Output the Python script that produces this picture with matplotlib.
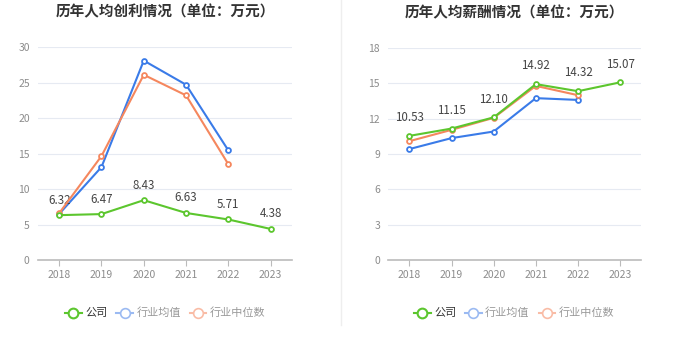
import matplotlib.pyplot as plt
from matplotlib.lines import Line2D

plt.rcParams['font.family'] = ['Noto Sans CJK SC', 'DejaVu Sans']

years = ['2018', '2019', '2020', '2021', '2022', '2023']

# 人均创利
profit_company = [6.32, 6.47, 8.43, 6.63, 5.71, 4.38]
profit_mean = [6.5, 13.1, 28.1, 24.7, 15.45]
profit_median = [6.6, 14.65, 26.1, 23.2, 13.5]

# 人均薪酬
salary_company = [10.53, 11.15, 12.10, 14.92, 14.32, 15.07]
salary_mean = [9.41, 10.34, 10.9, 13.73, 13.58]
salary_median = [10.08, 11.04, 12.06, 14.77, 13.98]

green = '#5cc62e'
blue = '#3a7be8'
orange = '#f5875e'

fig = plt.figure(figsize=(6.8, 3.49), dpi=100)
ax1 = fig.add_axes([0.056, 0.255, 0.373, 0.61])
ax2 = fig.add_axes([0.571, 0.255, 0.372, 0.608])


def draw(ax, comp, mean, med, ymax, step, title, lab_off):
    x = list(range(len(years)))
    kw = dict(marker='o', ms=3.5, mfc='white', mew=1.3, lw=1.5)
    ax.plot(x[:len(mean)], mean, color=blue, **kw, zorder=3)
    ax.plot(x[:len(med)], med, color=orange, **kw, zorder=4)
    ax.plot(x, comp, color=green, **kw, zorder=5)
    for i, v in enumerate(comp):
        ax.text(i, v + lab_off, f'{v:.2f}', ha='center', va='bottom',
                fontsize=8.3, color='#444444')
    ax.set_xlim(-0.5, len(years) - 0.5)
    ax.set_ylim(0, ymax)
    ax.set_yticks(range(0, ymax + 1, step))
    ax.set_xticks(x)
    ax.set_xticklabels(years)
    ax.tick_params(axis='both', labelsize=7.5, labelcolor='#8c8c8c', length=0, pad=6)
    ax.tick_params(axis='x', length=4, color='#bbbbbb', pad=3)
    ax.grid(axis='y', color='#e6eaf2', lw=0.8)
    ax.set_axisbelow(True)
    for s in ['top', 'right', 'left']:
        ax.spines[s].set_visible(False)
    ax.spines['bottom'].set_color('#bbbbbb')
    ax.spines['bottom'].set_linewidth(1.2)
    ax.set_title(title, fontsize=10.5, fontweight='bold', color='#333333', pad=22)


draw(ax1, profit_company, profit_mean, profit_median, 30, 5,
     '历年人均创利情况（单位：万元）', 1.2)
draw(ax2, salary_company, salary_mean, salary_median, 18, 3,
     '历年人均薪酬情况（单位：万元）', 1.0)

# 分隔线
fig.add_artist(Line2D([0.502, 0.502], [0.07, 1.0], color='#eeeeee', lw=1))

for cx in [0.243, 0.756]:
    handles = [
        Line2D([], [], color=green, marker='o', ms=7, mfc='white', mew=1.5, lw=1.5),
        Line2D([], [], color='#9bbaf2', marker='o', ms=7, mfc='white', mew=1.2, lw=1.5),
        Line2D([], [], color='#f9bca6', marker='o', ms=7, mfc='white', mew=1.2, lw=1.5),
    ]
    leg = fig.legend(handles, ['公司', '行业均值', '行业中位数'], loc='center',
                     bbox_to_anchor=(cx, 0.103), ncol=3, frameon=False,
                     fontsize=8, handlelength=1.5, handletextpad=0.3,
                     columnspacing=0.8)
    for t, c in zip(leg.get_texts(), ['#333333', '#999999', '#999999']):
        t.set_color(c)

fig.savefig('out.png', dpi=100)
